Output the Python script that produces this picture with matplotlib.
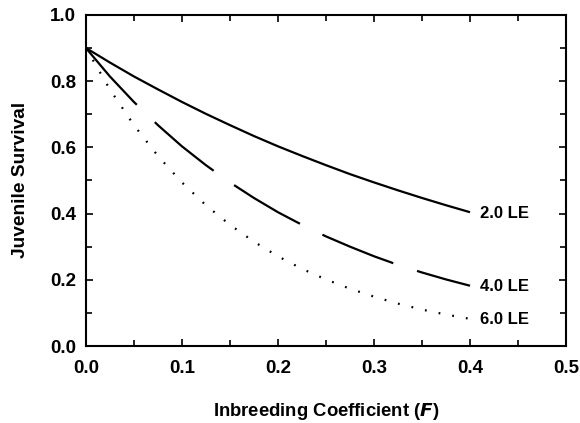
import matplotlib
matplotlib.use("Agg")
import matplotlib.pyplot as plt
from matplotlib.ticker import MultipleLocator

plt.rcParams['font.family'] = ['Liberation Sans', 'DejaVu Sans']
plt.rcParams['font.weight'] = 'bold'
plt.rcParams['lines.scale_dashes'] = False

F = [0.0, 0.025, 0.05, 0.075, 0.1, 0.125, 0.15, 0.175, 0.2, 0.225, 0.25,
     0.275, 0.3, 0.325, 0.35, 0.375, 0.4]
surv_2LE = [0.900, 0.856, 0.814, 0.775, 0.737, 0.701, 0.667, 0.634, 0.603,
            0.574, 0.546, 0.519, 0.494, 0.470, 0.447, 0.425, 0.404]
surv_4LE = [0.900, 0.814, 0.737, 0.667, 0.603, 0.546, 0.494, 0.447, 0.404,
            0.366, 0.331, 0.300, 0.271, 0.245, 0.222, 0.201, 0.182]
surv_6LE = [0.900, 0.775, 0.667, 0.574, 0.494, 0.425, 0.366, 0.315, 0.271,
            0.233, 0.201, 0.173, 0.149, 0.128, 0.110, 0.095, 0.082]
labels = ["2.0 LE", "4.0 LE", "6.0 LE"]
label_y = [0.40, 0.181, 0.079]

xticks = [0.0, 0.1, 0.2, 0.3, 0.4, 0.5]
yticks = [0.0, 0.2, 0.4, 0.6, 0.8, 1.0]

fig = plt.figure(figsize=(5.8, 4.23), dpi=100)
ax = fig.add_axes([0.148, 0.182, 0.828, 0.783])

ax.plot(F, surv_2LE, color='black', lw=1.6, solid_capstyle='butt')
ax.plot(F, surv_4LE, color='black', lw=1.6, dashes=[55, 18], dash_capstyle='butt')
ax.plot(F, surv_6LE, color='black', lw=1.6, dashes=[1.3, 8.7], dash_capstyle='butt')

for lab, yv in zip(labels, label_y):
    ax.text(0.41, yv, lab, fontsize=12, fontweight='bold', va='center', ha='left')

ax.set_xlim(0, 0.5)
ax.set_ylim(0, 1.0)
ax.set_xticks(xticks)
ax.set_yticks(yticks)
ax.set_xticklabels([f"{v:.1f}" for v in xticks])
ax.set_yticklabels([f"{v:.1f}" for v in yticks])
ax.xaxis.set_minor_locator(MultipleLocator(0.05))
ax.yaxis.set_minor_locator(MultipleLocator(0.1))
ax.tick_params(which='both', direction='in', top=True, right=True, width=1.2)
ax.tick_params(which='major', length=5, labelsize=13.5)
ax.tick_params(axis='y', which='major', pad=7)
ax.tick_params(axis='x', which='major', pad=10)
ax.tick_params(which='minor', length=4)
for lab in ax.get_xticklabels() + ax.get_yticklabels():
    lab.set_fontweight('bold')
for s in ax.spines.values():
    s.set_linewidth(1.5)

ax.set_xlabel("Inbreeding Coefficient ($\\bfit{F}$)", fontsize=13.3, fontweight='bold', labelpad=17)
ax.set_ylabel("Juvenile Survival", fontsize=13.8, fontweight='bold', labelpad=15)

fig.savefig("out.png", dpi=100)
